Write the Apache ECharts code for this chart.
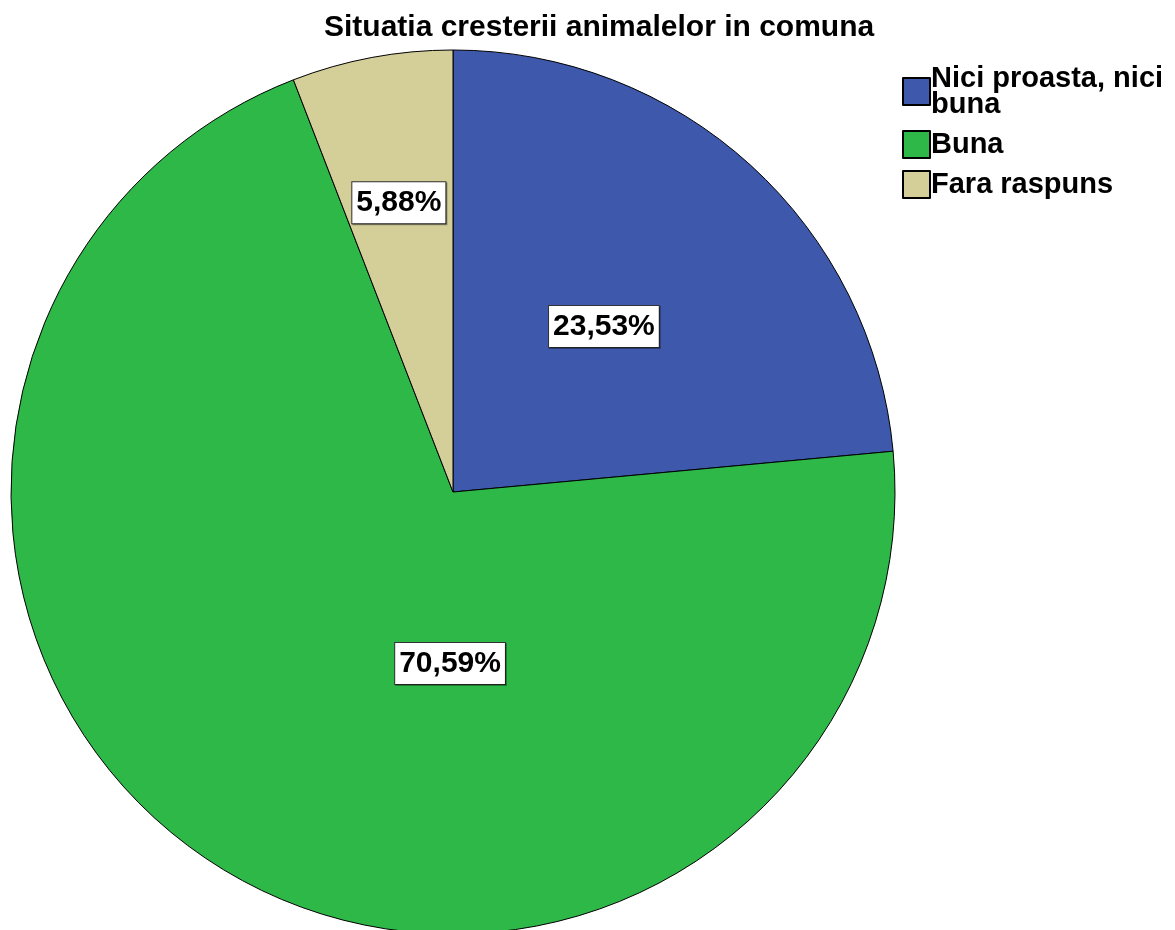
<!DOCTYPE html>
<html>
<head>
<meta charset="utf-8">
<script src="https://cdn.jsdelivr.net/npm/echarts@6/dist/echarts.min.js"></script>
<style>
html,body{margin:0;padding:0;background:#fff;}
#chart{width:1175px;height:930px;}
</style>
</head>
<body>
<div id="chart"></div>
<script>
var categories = ['Nici proasta, nici buna', 'Buna', 'Fara raspuns'];
var values = [23.53, 70.59, 5.88];
var colors = ['#3E58AC', '#2EB848', '#D4CE99'];
var labelOffsets = [[0, 0], [115, -19], [-13, -69]];
var titleText = 'Situatia cresterii animalelor in comuna';

var FONT = '"Liberation Sans", Arial, sans-serif';
var data = categories.map(function (c, i) {
  return {
    name: c,
    value: values[i],
    itemStyle: { color: colors[i] },
    label: { offset: labelOffsets[i] }
  };
});

var chart = echarts.init(document.getElementById('chart'));
chart.setOption({
  animation: false,
  backgroundColor: '#ffffff',
  title: {
    text: titleText,
    left: 319,
    top: 8,
    textStyle: { fontFamily: FONT, fontSize: 30, fontWeight: 'bold', color: '#000' }
  },
  legend: {
    orient: 'vertical',
    left: 897,
    top: 59,
    itemWidth: 27,
    itemHeight: 27,
    itemGap: 11,
    icon: 'rect',
    data: categories,
    formatter: function (name) {
      return name === 'Nici proasta, nici buna' ? 'Nici proasta, nici\nbuna' : name;
    },
    textStyle: { fontFamily: FONT, fontSize: 29, fontWeight: 'bold', color: '#000', lineHeight: 26, padding: [0, 0, 0, -4] }
  },
  series: [{
    type: 'pie',
    center: [453, 492],
    radius: 442,
    startAngle: 90,
    clockwise: true,
    data: data,
    itemStyle: { borderColor: '#000', borderWidth: 1 },
    label: {
      show: true,
      position: 'inside',
      formatter: function (p) { return p.value.toFixed(2).replace('.', ',') + '%'; },
      fontFamily: FONT,
      fontSize: 30,
      fontWeight: 'bold',
      color: '#000',
      backgroundColor: '#fff',
      borderColor: '#333',
      borderWidth: 1,
      padding: [6, 4, 5, 4],
      shadowColor: 'rgba(0,0,0,0.35)',
      shadowOffsetX: 1,
      shadowOffsetY: 1,
      shadowBlur: 0
    },
    labelLine: { show: false },
    emphasis: { disabled: true }
  }]
});
</script>
</body>
</html>
